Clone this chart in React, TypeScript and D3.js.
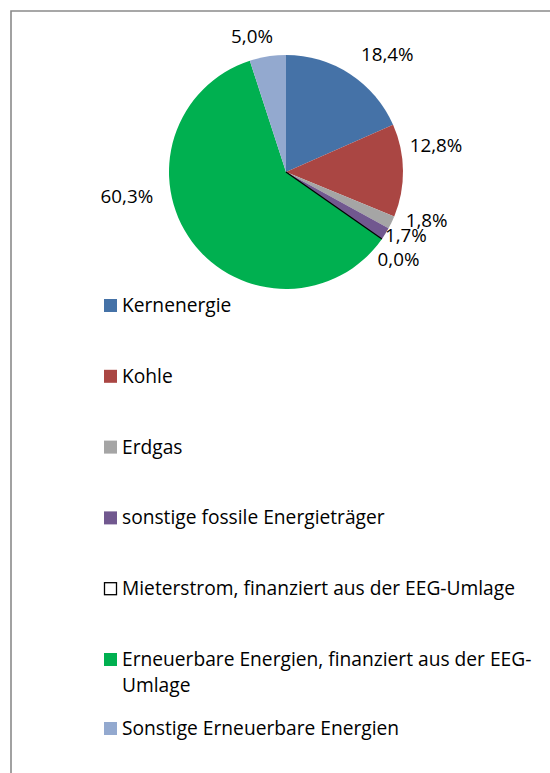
import React from "react";
import * as d3 from "d3";

const categories = [
  "Kernenergie",
  "Kohle",
  "Erdgas",
  "sonstige fossile Energieträger",
  "Mieterstrom, finanziert aus der EEG-Umlage",
  "Erneuerbare Energien, finanziert aus der EEG-Umlage",
  "Sonstige Erneuerbare Energien",
];
const values = [18.4, 12.8, 1.8, 1.7, 0.0, 60.3, 5.0];
const colors = ["#4572A7", "#AA4643", "#A5A5A5", "#71588F", "#FFFFFF", "#00B050", "#93A9CF"];
const strokes = ["none", "none", "none", "none", "#000000", "none", "none"];
const legendWrap: Record<number, string[]> = {
  5: ["Erneuerbare Energien, finanziert aus der EEG-", "Umlage"],
};

// layout (not data)
const W = 550;
const H = 773;
const cx = 286;
const cy = 172;
const R = 117;
const labelR = R + 30;
const labelNudge = [
  [21, 6],
  [3, -25],
  [8, -15],
  [-5, -14],
  [-8, 3],
  [-41, -63],
  [-11, 10],
];
const FONT = "'Open Sans', Lato, sans-serif";
const FS = 19.2;
const LFS = 18.8;
const legendX = 104;
const legendTextX = 122;
const legendBase = 312;
const legendStep = 70.8;
const lineH = 26;

export default function App() {
  const pie = d3
    .pie<number>()
    .sort(null)
    .value((d) => d)
    .startAngle(0)
    .endAngle(2 * Math.PI);
  const arcs = pie(values);
  const arc = d3.arc<d3.PieArcDatum<number>>().innerRadius(0).outerRadius(R);
  const fmt = (v: number) => d3.format(".1f")(v).replace(".", ",") + "%";

  const order = arcs.map((_, i) => i).sort((a, b) => (strokes[a] === "none" ? 0 : 1) - (strokes[b] === "none" ? 0 : 1));

  // legend baselines
  const baselines: number[] = [];
  let y = legendBase;
  categories.forEach((c, i) => {
    baselines.push(y);
    const lines = legendWrap[i] ? legendWrap[i].length : 1;
    y += (lines - 1) * lineH + (lines > 1 ? 43 : legendStep);
  });

  return (
    <svg
      width={W}
      height={H}
      style={{ position: "absolute", left: 0, top: 0, background: "#fff" }}
      fontFamily={FONT}
    >
      <rect x={0} y={0} width={W} height={H} fill="#fff" />
      <path d={`M11,${H + 5} L11,11 L${W + 5},11`} fill="none" stroke="#8a8a8a" strokeWidth={1.6} />
      <g transform={`translate(${cx},${cy})`}>
        {order.map((i) => (
          <path
            key={i}
            d={arc(arcs[i]) || ""}
            fill={colors[i]}
            stroke={strokes[i]}
            strokeWidth={strokes[i] === "none" ? 0 : 1.3}
          />
        ))}
        {arcs.map((a, i) => {
          const mid = (a.startAngle + a.endAngle) / 2;
          const x = Math.sin(mid) * labelR + labelNudge[i][0];
          const yy = -Math.cos(mid) * labelR + labelNudge[i][1];
          return (
            <text
              key={"l" + i}
              x={x}
              y={yy + 6.5}
              textAnchor="middle"
              fontSize={LFS}
              fill="#000"
            >
              {fmt(values[i])}
            </text>
          );
        })}
      </g>
      <g>
        {categories.map((c, i) => {
          const lines = legendWrap[i] || [c];
          const b = baselines[i];
          return (
            <g key={"lg" + i}>
              <rect
                x={strokes[i] === "none" ? legendX : legendX + 0.5}
                y={strokes[i] === "none" ? b - 13 : b - 12.5}
                width={strokes[i] === "none" ? 13 : 12}
                height={strokes[i] === "none" ? 13 : 12}
                fill={colors[i]}
                stroke={strokes[i]}
                strokeWidth={strokes[i] === "none" ? 0 : 1.3}
              />
              <text x={legendTextX} y={b} fontSize={FS} fill="#000">
                {lines.map((t, k) => (
                  <tspan key={k} x={legendTextX} y={b + k * lineH}>
                    {t}
                  </tspan>
                ))}
              </text>
            </g>
          );
        })}
      </g>
    </svg>
  );
}
